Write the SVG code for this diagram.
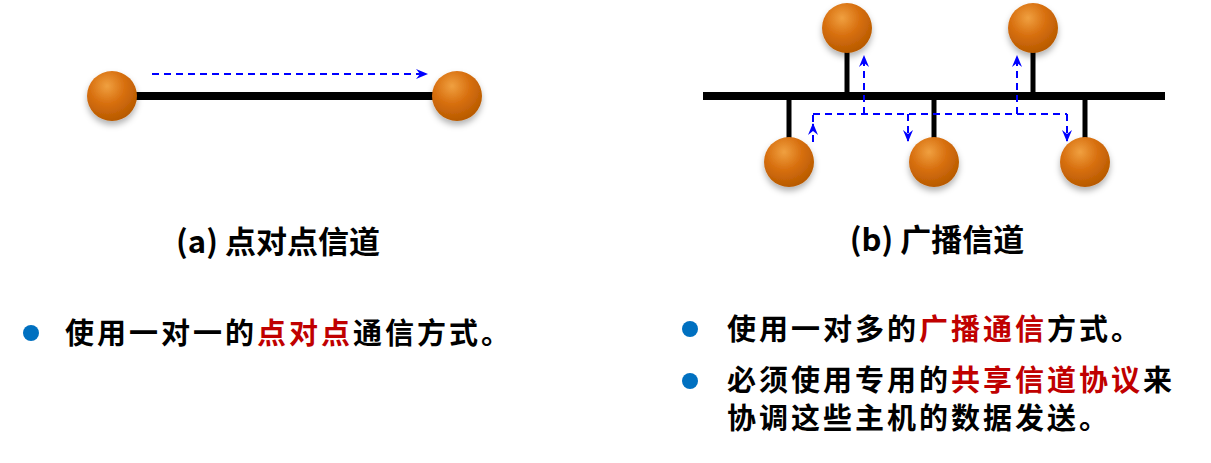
<svg xmlns="http://www.w3.org/2000/svg" width="1211" height="463" viewBox="0 0 1211 463">
<defs>
<radialGradient id="ball" cx="0.4" cy="0.3" r="0.7">
<stop offset="0" stop-color="#f0a040"/>
<stop offset="0.5" stop-color="#d87010"/>
<stop offset="1" stop-color="#b85a00"/>
</radialGradient>
<filter id="sh" x="-30%" y="-30%" width="160%" height="170%"><feDropShadow dx="0" dy="4" stdDeviation="3" flood-color="#000" flood-opacity="0.3"/></filter>
<marker id="ah" markerWidth="12" markerHeight="10" refX="11" refY="5" orient="auto" markerUnits="userSpaceOnUse">
<path d="M0,0 L12,5 L0,10 L4,5 Z" fill="#0000ff"/>
</marker>
<style>
.bar{stroke:#000;stroke-width:8;fill:none}
.stub{stroke:#000;stroke-width:5;fill:none}
.node circle{fill:url(#ball);filter:url(#sh)}
.dash{stroke:#0000ff;stroke-width:2;stroke-dasharray:7,5;fill:none}
.t{font-family:"Noto Sans CJK SC","Liberation Sans",sans-serif;font-weight:bold;font-size:29px;letter-spacing:3px;fill:#000}
.h{font-family:"Noto Sans CJK SC","Liberation Sans",sans-serif;font-weight:bold;font-size:31px;fill:#000}
.r{fill:#c00000}
.bul{fill:#0070c0}
</style>
</defs>
<g id="wires">
<line class="bar" x1="136" y1="96" x2="434" y2="96"/>
<line class="bar" x1="703" y1="96" x2="1165" y2="96"/>
<line class="stub" x1="847" y1="50" x2="847" y2="96"/>
<line class="stub" x1="1033" y1="50" x2="1033" y2="96"/>
<line class="stub" x1="789" y1="96" x2="789" y2="140"/>
<line class="stub" x1="934" y1="96" x2="934" y2="140"/>
<line class="stub" x1="1085" y1="96" x2="1085" y2="140"/>
</g>
<g id="connectors">
<line class="dash" x1="152" y1="74" x2="427" y2="74" marker-end="url(#ah)"/>
<path class="dash" d="M813,114 H1067"/>
<path class="dash" d="M813,142 V124" marker-end="url(#ah)"/>
<path class="dash" d="M813,122 V114"/>
<path class="dash" d="M864,114 V56" marker-end="url(#ah)"/>
<path class="dash" d="M1017,114 V56" marker-end="url(#ah)"/>
<path class="dash" d="M908,114 V141" marker-end="url(#ah)"/>
<path class="dash" d="M1067,114 V141" marker-end="url(#ah)"/>
</g>
<g id="n1" class="node"><circle cx="112" cy="96" r="25"/></g>
<g id="n2" class="node"><circle cx="457" cy="96" r="25"/></g>
<g id="n3" class="node"><circle cx="847" cy="28" r="25"/></g>
<g id="n4" class="node"><circle cx="1033" cy="28" r="25"/></g>
<g id="n5" class="node"><circle cx="789" cy="162" r="25"/></g>
<g id="n6" class="node"><circle cx="934" cy="162" r="25"/></g>
<g id="n7" class="node"><circle cx="1085" cy="162" r="25"/></g>
<text class="h" x="278" y="253" text-anchor="middle">(a) 点对点信道</text>
<text class="h" x="937" y="251" text-anchor="middle">(b) 广播信道</text>
<circle class="bul" cx="31" cy="333" r="8"/>
<text class="t" x="65" y="344">使用一对一的<tspan class="r">点对点</tspan>通信方式。</text>
<circle class="bul" cx="690" cy="329" r="8"/>
<text class="t" x="727" y="340">使用一对多的<tspan class="r">广播通信</tspan>方式。</text>
<circle class="bul" cx="690" cy="381" r="8"/>
<text class="t" x="727" y="391">必须使用专用的<tspan class="r">共享信道协议</tspan>来</text>
<text class="t" x="727" y="429">协调这些主机的数据发送。</text>
</svg>
